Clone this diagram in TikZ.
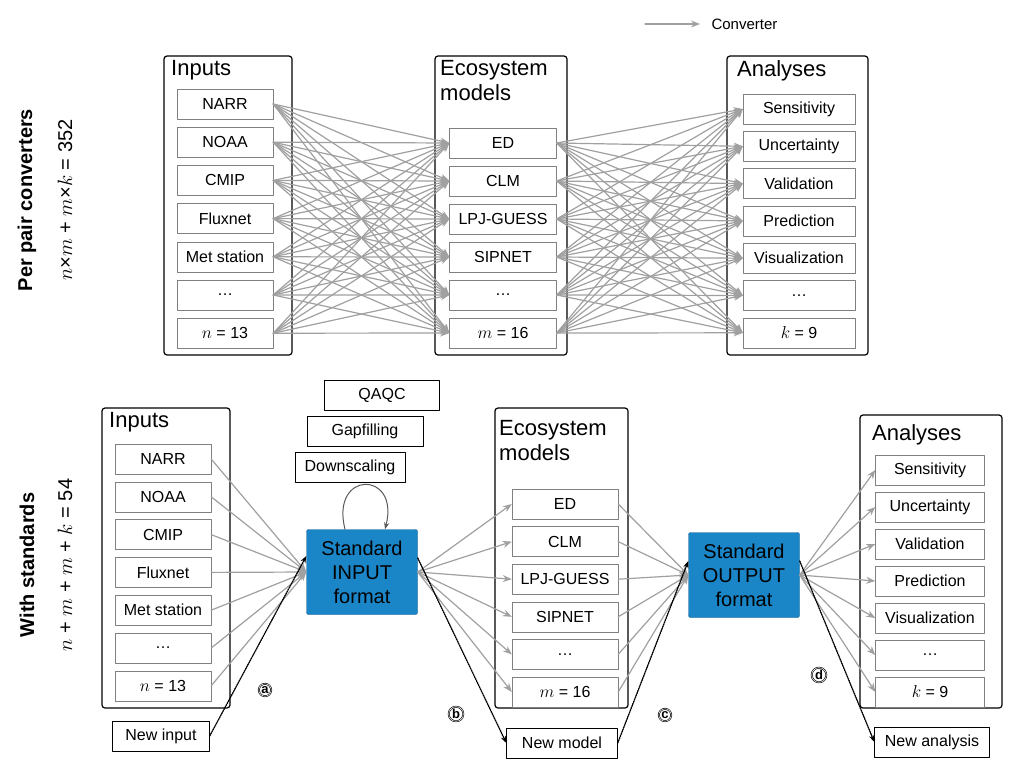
\documentclass[tikz,border=0pt]{standalone}
\usepackage{fontspec}
\setmainfont{Liberation Sans}
\usetikzlibrary{arrows.meta}
\definecolor{stdblue}{HTML}{1A86C8}
\definecolor{conv}{HTML}{A0A0A0}
\tikzset{
  item/.style={draw=gray, fill=white, minimum height=30pt, inner sep=1pt, font=\fontsize{16}{18}\selectfont},
  panel/.style={draw, very thick, rounded corners=3pt},
  title/.style={anchor=north west, align=left, inner sep=0pt, font=\fontsize{22}{25}\selectfont},
  cv/.style={conv, line width=1.2pt, -{Stealth[length=9pt,width=7pt]}},
  newc/.style={black, densely dotted, line width=1.3pt, -{Stealth[length=7pt]}},
  std/.style={fill=stdblue, draw=stdblue!70!black, rounded corners=2pt, minimum width=111pt, minimum height=85pt, align=center, font=\fontsize{20}{24}\selectfont},
  tag/.style={circle, draw, double, line width=0.6pt, inner sep=0.8pt, font=\bfseries\fontsize{13}{14}\selectfont},
}
\begin{document}
\begin{tikzpicture}[x=1pt, y=-1pt, line cap=round, line join=round]
  \useasboundingbox (0,0) rectangle (1032,769);
  % legend
  \draw [cv] (645,24) -- (700,24);
  \node [anchor=west, font=\fontsize{15}{17}\selectfont] (legend) at (708,24) {Converter};
  % side labels
  \node [rotate=90, font=\bfseries\fontsize{20}{22}\selectfont] (perpair) at (27,200) {Per pair converters};
  \node [rotate=90, font=\fontsize{20}{22}\selectfont] (perpaireq) at (65,200) {$n$×$m$ + $m$×$k$ = 352};
  \node [rotate=90, font=\bfseries\fontsize{20}{22}\selectfont] (withstd) at (27,565) {With standards};
  \node [rotate=90, font=\fontsize{20}{22}\selectfont] (withstdeq) at (65,565) {$n$ + $m$ + $m$ + $k$ = 54};

  %% top: per pair converters
  \draw [panel] (164,56) rectangle (292,355);
  \draw [panel] (435,56) rectangle (567,355);
  \draw [panel] (727,56) rectangle (868,355);
  \node [title] at (171,60) {Inputs};
  \node [title] at (440,60) {Ecosystem\\models};
  \node [title] at (737,60) {Analyses};
  \foreach \t [count=\i] in {NARR,NOAA,CMIP,Fluxnet,Met station,\dots,$n$ = 13}
    \node [item, minimum width=96pt] (ti\i) at (225,{104+38.2*(\i-1)}) {\t};
  \foreach \t [count=\i] in {ED,CLM,LPJ-GUESS,SIPNET,\dots,$m$ = 16}
    \node [item, minimum width=107pt] (tm\i) at (503,{143+38*(\i-1)}) {\t};
  \foreach \t [count=\i] in {Sensitivity,Uncertainty,Validation,Prediction,Visualization,\dots,$k$ = 9}
    \node [item, minimum width=112pt] (ta\i) at (799,{109+37.3*(\i-1)}) {\t};
  \foreach \i in {1,...,7}
    \foreach \j in {1,...,6}
      \draw [cv] (ti\i.east) -- (tm\j.west);
  \foreach \j in {1,...,6}
    \foreach \k in {1,...,7}
      \draw [cv] (tm\j.east) -- (ta\k.west);

  %% bottom: with standards
  \draw [panel] (102,408) rectangle (230,708);
  \draw [panel] (495,408) rectangle (628,708);
  \draw [panel] (860,415) rectangle (1002,708);
  \node [title] at (109,412) {Inputs};
  \node [title] at (499,420) {Ecosystem\\models};
  \node [title] at (872,424) {Analyses};
  \foreach \t [count=\i] in {NARR,NOAA,CMIP,Fluxnet,Met station,\dots,$n$ = 13}
    \node [item, minimum width=96pt] (bi\i) at (163,{459+37.8*(\i-1)}) {\t};
  \foreach \t [count=\i] in {ED,CLM,LPJ-GUESS,SIPNET,\dots,$m$ = 16}
    \node [item, minimum width=106pt] (bm\i) at (565,{504+37.6*(\i-1)}) {\t};
  \foreach \t [count=\i] in {Sensitivity,Uncertainty,Validation,Prediction,Visualization,\dots,$k$ = 9}
    \node [item, minimum width=109pt] (ba\i) at (930,{470+37*(\i-1)}) {\t};
  \node [item, draw=black, minimum width=115pt] (qaqc) at (382,395) {QAQC};
  \node [item, draw=black, minimum width=116pt] (gapfill) at (365,431) {Gapfilling};
  \node [item, draw=black, minimum width=110pt] (downscale) at (350,467) {Downscaling};
  \node [std] (stdin) at (362,572) {Standard\\INPUT\\format};
  \node [std] (stdout) at (744,575) {Standard\\OUTPUT\\format};
  \draw [gray!70!black, line width=1pt, -{Stealth[length=7pt]}] ([xshift=-17pt]stdin.north)
    .. controls (330,470) and (400,470) .. ([xshift=23pt]stdin.north);
  \foreach \i in {1,...,7}
    \draw [cv] (bi\i.east) -- (stdin.west);
  \foreach \j in {1,...,6} {
    \draw [cv] (stdin.east) -- (bm\j.west);
    \draw [cv] (bm\j.east) -- (stdout.west);
  }
  \foreach \k in {1,...,7}
    \draw [cv] (stdout.east) -- (ba\k.west);
  % new items
  \node [item, draw=black, minimum width=97pt] (newin) at (161,736) {New input};
  \node [item, draw=black, minimum width=111pt] (newmod) at (562,743) {New model};
  \node [item, draw=black, minimum width=115pt] (newana) at (932,742) {New analysis};
  \draw [newc] (newin.east) -- ([yshift=16pt]stdin.west);
  \draw [newc] ([yshift=14pt]stdin.east) -- (newmod.west);
  \draw [newc] (newmod.east) -- ([yshift=14pt]stdout.west);
  \draw [newc] ([yshift=14pt]stdout.east) -- (newana.west);
  \node [tag] (tagA) at (265,690) {a};
  \node [tag] (tagB) at (456,714) {b};
  \node [tag] (tagC) at (665,715) {c};
  \node [tag] (tagD) at (819,675) {d};
\end{tikzpicture}
\end{document}
